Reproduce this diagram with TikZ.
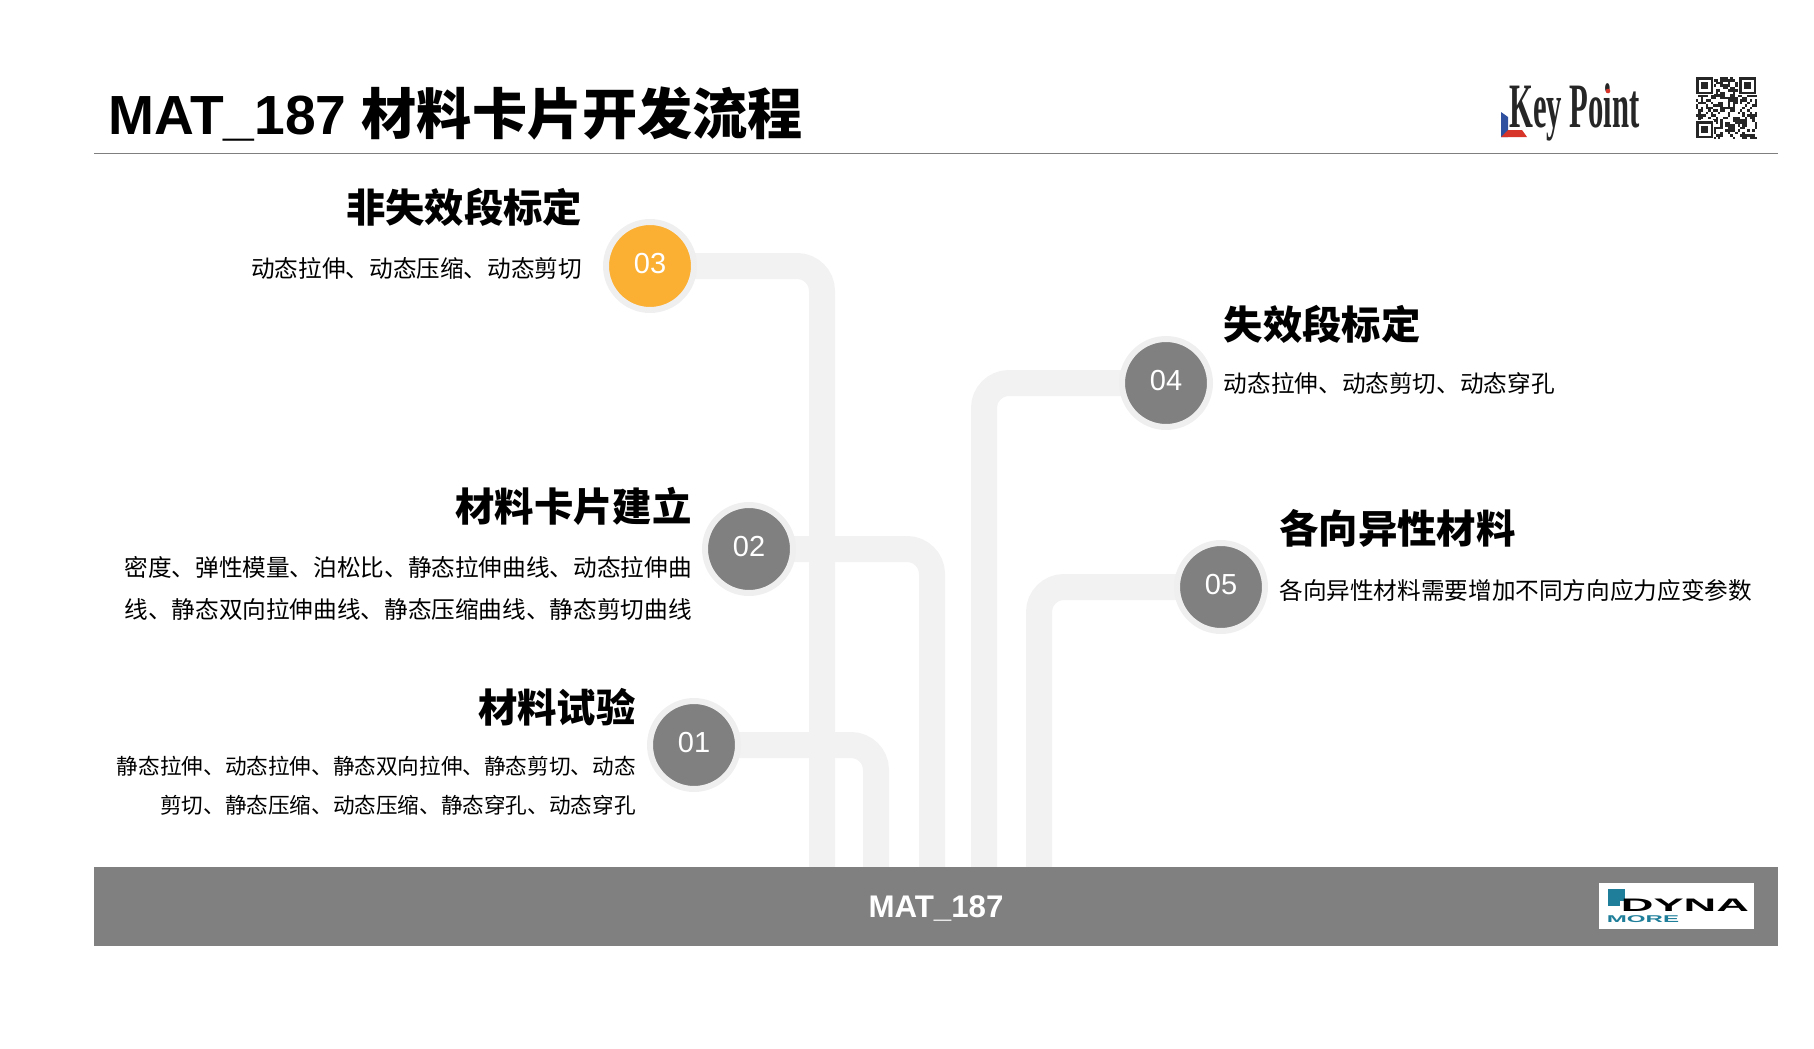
\documentclass[tikz,border=0pt]{standalone}
\usepackage{fontspec}
\setmainfont{Liberation Sans}
\newfontfamily\cjk{Noto Sans CJK SC}
\newfontfamily\logoserif{Liberation Serif}
\usetikzlibrary{positioning,calc,backgrounds}
\definecolor{FlowGrey}{HTML}{808080}
\definecolor{FlowAmber}{HTML}{FBB034}
\definecolor{FlowPipe}{HTML}{F2F2F2}
\definecolor{FlowRing}{HTML}{EFEFEF}
\definecolor{FlowRule}{HTML}{7F7F7F}
\definecolor{LogoTeal}{HTML}{1F7F9A}
\definecolor{LogoBlue}{HTML}{2F4F9F}
\definecolor{LogoRed}{HTML}{D8352A}
\tikzset{
  stepdot/.style={circle,fill=FlowGrey,draw=FlowRing,line width=.12cm,minimum size=1.76cm,inner sep=0pt,text=white,font=\fontsize{16.5}{16.5}\selectfont,text height=11.6pt,text depth=3.4pt},
  pipe/.style={draw=FlowPipe,line width=.52cm,rounded corners=.5cm},
  head/.style={font=\cjk\bfseries\fontsize{22.4}{26}\selectfont,inner sep=0pt},
  subtext/.style={font=\cjk\fontsize{13.45}{24.2}\selectfont,inner sep=0pt},
  subsmall/.style={font=\cjk\fontsize{12.3}{22.2}\selectfont,inner sep=0pt,align=right}
}
\begin{document}
\begin{tikzpicture}[x=.02cm,y=-.02cm]
\useasboundingbox (0,0) rectangle (1814,1048);
\node[anchor=west,inner sep=0pt,font=\bfseries\fontsize{31.4}{36}\selectfont] (title) at (108,114) {MAT\_187 {\cjk 材料卡片开发流程}};
\draw[FlowRule,line width=.4pt] (94,153) coordinate (ruleL) -- (1778,153) coordinate (ruleR);
\node[fill=FlowGrey,minimum width=33.68cm,minimum height=1.58cm,inner sep=0pt,text=white,font=\bfseries\fontsize{17.8}{20}\selectfont,text height=12pt,text depth=0pt] (bar) at (936,906.5) {MAT\_187};
\node[stepdot] (n1) at (694,745) {01};
\node[stepdot] (n2) at (749,549) {02};
\node[stepdot,fill=FlowAmber] (n3) at (650,266) {03};
\node[stepdot] (n4) at (1166,383) {04};
\node[stepdot] (n5) at (1221,587) {05};
\coordinate (b1) at (876,867);
\coordinate (b2) at (932,867);
\coordinate (b3) at (822,867);
\coordinate (b4) at (984,867);
\coordinate (b5) at (1039,867);
\begin{scope}[on background layer]
\draw[pipe] (n3.center) -| (b3);
\draw[pipe] (n2.center) -| (b2);
\draw[pipe] (n1.center) -| (b1);
\draw[pipe] (n4.center) -| (b4);
\draw[pipe] (n5.center) -| (b5);
\end{scope}
\node[head,anchor=east] (h3) at ($(n3)+(-67.5,-59)$) {非失效段标定};
\node[subtext,anchor=east] (s3) at ($(n3)+(-67.5,2)$) {动态拉伸、动态压缩、动态剪切};
\node[head,anchor=east] (h2) at ($(n2)+(-57,-43)$) {材料卡片建立};
\node[subtext,anchor=east,align=right] (s2) at ($(n2)+(-57,39.5)$) {密度、弹性模量、泊松比、静态拉伸曲线、动态拉伸曲\\线、静态双向拉伸曲线、静态压缩曲线、静态剪切曲线};
\node[head,anchor=east] (h1) at ($(n1)+(-58,-38)$) {材料试验};
\node[subsmall,anchor=east] (s1) at ($(n1)+(-58,41)$) {静态拉伸、动态拉伸、静态双向拉伸、静态剪切、动态\\剪切、静态压缩、动态压缩、静态穿孔、动态穿孔};
\node[head,anchor=west] (h4) at ($(n4)+(57.5,-59)$) {失效段标定};
\node[subtext,anchor=west] (s4) at ($(n4)+(57.5,0)$) {动态拉伸、动态剪切、动态穿孔};
\node[head,anchor=west] (h5) at ($(n5)+(58,-59)$) {各向异性材料};
\node[subtext,anchor=west] (s5) at ($(n5)+(58,3.5)$) {各向异性材料需要增加不同方向应力应变参数};
\fill[LogoBlue] (1501,112) -- (1508,117) -- (1508,137) -- (1501,137) -- cycle;
\fill[LogoRed] (1501,137) -- (1508,130) -- (1522,130) -- (1527,137) -- cycle;
\node[anchor=west,inner sep=0pt,xscale=.485,font=\logoserif\bfseries\fontsize{36}{40}\selectfont,text=black!85] (keypoint) at (1509,112.5) {Key Point};
\fill[LogoRed] (1608,91) circle (2.3);
\pgfmathsetseed{187}
\foreach \i in {0,...,24} \foreach \j in {0,...,24} {
  \pgfmathparse{rnd<.5 ? 1 : 0}
  \ifnum\pgfmathresult=1 \fill[black!85] (1696+\i*2.44,77+\j*2.48) rectangle +(2.44,2.48); \fi
}
\foreach \qx/\qy in {1696/77,1739/77,1696/121} {
  \fill[white] (\qx-1,\qy-1) rectangle +(19,19);
  \fill[black!85] (\qx,\qy) rectangle +(17,17);
  \fill[white] (\qx+2.5,\qy+2.5) rectangle +(12,12);
  \fill[black!85] (\qx+5,\qy+5) rectangle +(7,7);
}
\fill[white] (1599,883) rectangle (1754,929);
\fill[LogoTeal] (1608,889) rectangle (1625,901);
\fill[LogoTeal] (1608,901) rectangle (1620,906);
\node[anchor=west,inner sep=0pt,xscale=2.5,font=\bfseries\fontsize{10.3}{12}\selectfont,text=black] (dyna) at (1620,905.5) {DYNA};
\node[anchor=west,inner sep=0pt,xscale=2.45,font=\bfseries\fontsize{5.6}{7}\selectfont,text=LogoTeal] (more) at (1606,919.5) {MORE};
\end{tikzpicture}
\end{document}
